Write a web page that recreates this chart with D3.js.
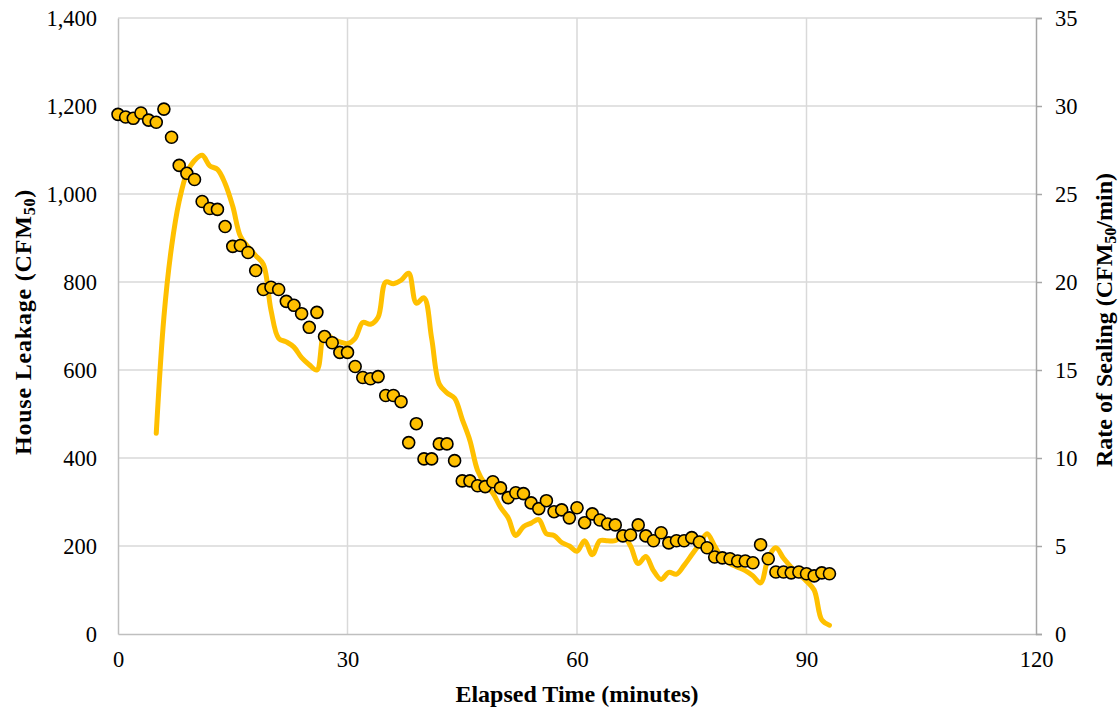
<!DOCTYPE html>
<html><head><meta charset="utf-8">
<script src="https://cdn.jsdelivr.net/npm/d3@7"></script>
<style>
html,body{margin:0;padding:0;background:#fff;}
svg{display:block;}
text{font-family:"Liberation Serif","Times New Roman",serif;}
</style></head>
<body><svg id="c" width="1120" height="711"></svg>
<script>
// Elapsed time (minutes) for House Leakage points
const leakTimes = [0,1,2,3,4,5,6,7,8,9,10,11,12,13,14,15,16,17,18,19,20,21,22,23,24,25,26,27,28,29,30,31,32,33,34,35,36,37,38,39,40,41,42,43,44,45,46,47,48,49,50,51,52,53,54,55,56,57,58,59,60,61,62,63,64,65,66,67,68,69,70,71,72,73,74,75,76,77,78,79,80,81,82,83,84,85,86,87,88,89,90,91,92,93];
// House Leakage (CFM50)
const leakage = [1181,1175,1172,1184,1168,1163,1193,1129,1065,1047,1033,983,967,965,926,881,883,867,826,783,788,783,756,747,728,697,731,676,662,640,640,608,583,580,585,542,542,528,435,478,398,398,432,432,394,348,348,337,335,346,332,310,321,319,298,285,303,278,282,264,287,253,273,259,250,248,223,225,248,223,212,230,207,212,212,219,209,196,175,173,171,166,166,162,203,171,141,141,139,141,137,132,139,137];
// Elapsed time (minutes) for Rate of Sealing
const rateTimes = [5,6,7,8,9,10,11,12,13,14,15,16,17,18,19,20,21,22,23,24,25,26,27,28,29,30,31,32,33,34,35,36,37,38,39,40,41,42,43,44,45,46,47,48,49,50,51,52,53,54,55,56,57,58,59,60,61,62,63,64,65,66,67,68,69,70,71,72,73,74,75,76,77,78,79,80,81,82,83,84,85,86,87,88,89,90,91,92,93];
// Rate of Sealing (CFM50/min)
const rate = [11.4,18.0,22.0,24.6,26.2,26.9,27.2,26.6,26.4,25.6,24.3,22.6,22.0,21.5,21.0,18.4,16.8,16.6,16.3,15.7,15.3,15.0,17.1,16.8,16.6,16.5,16.8,17.7,17.6,18.0,20.0,19.9,20.1,20.5,18.8,19.1,16.8,14.2,13.7,13.4,12.2,11.0,9.3,8.5,8.0,7.2,6.6,5.6,6.1,6.3,6.5,5.7,5.6,5.2,5.0,4.7,5.3,4.5,5.3,5.3,5.3,5.6,5.0,4.0,4.4,3.6,3.1,3.5,3.4,3.9,4.5,5.1,5.7,5.0,4.3,4.0,3.8,3.6,3.3,2.9,4.3,4.9,4.3,3.8,3.4,3.0,2.5,0.8,0.5];
// Tick labels
const xTicks = [0,30,60,90,120];
const yLeftTicks = [0,200,400,600,800,1000,1200,1400];
const yRightTicks = [0,5,10,15,20,25,30,35];

const svg = d3.select("#c");
const L = 118, R = 1036, T = 18, B = 634;
const x = d3.scaleLinear().domain([0,120]).range([L,R]);
const yL = d3.scaleLinear().domain([0,1400]).range([B,T]);
const yR = d3.scaleLinear().domain([0,35]).range([B,T]);
const gold = "#FFC000";
const tickFont = 22.5;

// gridlines
svg.append("g").selectAll("line").data(yLeftTicks.filter(d=>d>0)).join("line")
  .attr("x1",L).attr("x2",R).attr("y1",d=>yL(d)).attr("y2",d=>yL(d))
  .attr("stroke","#d9d9d9").attr("stroke-width",1.5);
svg.append("g").selectAll("line").data(xTicks.filter(d=>d>0 && d<120)).join("line")
  .attr("y1",T).attr("y2",B).attr("x1",d=>x(d)).attr("x2",d=>x(d))
  .attr("stroke","#d9d9d9").attr("stroke-width",1.5);

// left axis
const gl = svg.append("g").attr("transform",`translate(${L},0)`)
  .call(d3.axisLeft(yL).tickValues(yLeftTicks).tickSize(0).tickPadding(21).tickFormat(d3.format(",")));
gl.select(".domain").attr("stroke","#bfbfbf").attr("stroke-width",1.5);
gl.selectAll("text").attr("font-size",tickFont).attr("fill","#000").style("font-family","'Liberation Serif',serif");

// bottom axis
const gb = svg.append("g").attr("transform",`translate(0,${B})`)
  .call(d3.axisBottom(x).tickValues(xTicks).tickSize(0).tickPadding(17));
gb.select(".domain").attr("stroke","#bfbfbf").attr("stroke-width",1.5);
gb.selectAll("text").attr("font-size",tickFont).attr("fill","#000").style("font-family","'Liberation Serif',serif");

// right axis
const gr = svg.append("g").attr("transform",`translate(${R},0)`)
  .call(d3.axisRight(yR).tickValues(yRightTicks).tickSize(6).tickPadding(13));
gr.select(".domain").attr("stroke","#a6a6a6").attr("stroke-width",1.5);
gr.selectAll(".tick line").attr("stroke","#a6a6a6").attr("stroke-width",1.5);
gr.selectAll("text").attr("font-size",tickFont).attr("fill","#000").style("font-family","'Liberation Serif',serif");

// line (right axis)
const line = d3.line().x((d,i)=>x(rateTimes[i])).y(d=>yR(d)).curve(d3.curveCatmullRom.alpha(0.5));
svg.append("path").datum(rate).attr("d",line).attr("fill","none")
  .attr("stroke",gold).attr("stroke-width",5).attr("stroke-linejoin","round").attr("stroke-linecap","round");

// scatter points (left axis)
svg.append("g").selectAll("circle").data(leakage).join("circle")
  .attr("cx",(d,i)=>x(leakTimes[i])).attr("cy",d=>yL(d)).attr("r",6)
  .attr("fill",gold).attr("stroke","#000").attr("stroke-width",1.6);

// axis titles
const lt = svg.append("text").attr("transform",`translate(31,322) rotate(-90)`)
  .attr("text-anchor","middle").attr("font-size",24).attr("font-weight","bold").attr("fill","#000")
  .attr("letter-spacing",0.8);
lt.append("tspan").text("House Leakage (CFM");
lt.append("tspan").attr("font-size",16).attr("dy",4).text("50");
lt.append("tspan").attr("dy",-4).text(")");

const rt = svg.append("text").attr("transform",`translate(1112,320) rotate(-90)`)
  .attr("text-anchor","middle").attr("font-size",24).attr("font-weight","bold").attr("fill","#000");
rt.append("tspan").text("Rate of Sealing (CFM");
rt.append("tspan").attr("font-size",16).attr("dy",4).text("50");
rt.append("tspan").attr("dy",-4).text("/min)");

svg.append("text").attr("x",577).attr("y",702).attr("text-anchor","middle")
  .attr("font-size",24).attr("font-weight","bold").attr("fill","#000").text("Elapsed Time (minutes)");
</script></body></html>
